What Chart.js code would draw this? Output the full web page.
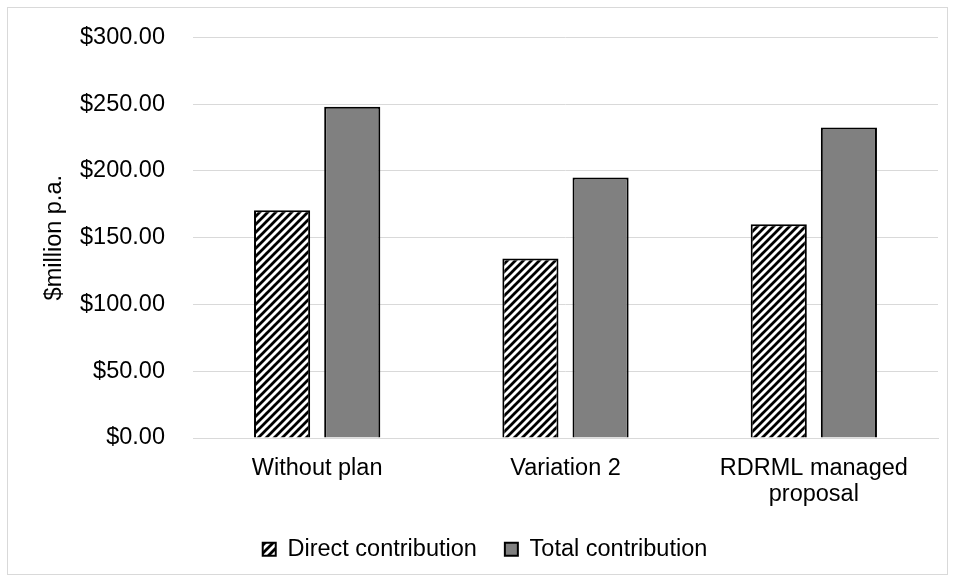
<!DOCTYPE html>
<html>
<head>
<meta charset="utf-8">
<script src="https://cdn.jsdelivr.net/npm/chart.js@4.4.2/dist/chart.umd.min.js"></script>
<style>
  body { margin: 0; background: #fff; }
  #frame { position: absolute; left: 7px; top: 7px; width: 939px; height: 566px; border: 1px solid #d9d9d9; }
  #chart { position: absolute; left: 0; top: 0; }
</style>
</head>
<body>
<div id="frame"></div>
<canvas id="chart" width="955" height="581"></canvas>
<script>
const categories = ['Without plan', 'Variation 2', ['RDRML managed', 'proposal']];
const directContribution = [170.5, 134.5, 160];
const totalContribution = [248, 195, 232.5];
const seriesNames = ['Direct contribution', 'Total contribution'];

const FONT = 'Liberation Sans, Arial, sans-serif';
const FONT_SIZE = 23.5;

// diagonal hatch like Excel's wide upward diagonal
function hatch() {
  const s = 8;
  const c = document.createElement('canvas');
  c.width = s;
  c.height = s;
  const ctx = c.getContext('2d');
  ctx.fillStyle = '#fff';
  ctx.fillRect(0, 0, s, s);
  ctx.strokeStyle = '#000';
  ctx.lineWidth = 2.8;
  ctx.beginPath();
  ctx.moveTo(-1, s + 1); ctx.lineTo(s + 1, -1);
  ctx.moveTo(-1, 1); ctx.lineTo(1, -1);
  ctx.moveTo(s - 1, s + 1); ctx.lineTo(s + 1, s - 1);
  ctx.stroke();
  return ctx.createPattern(c, 'repeat');
}

new Chart(document.getElementById('chart'), {
  type: 'bar',
  data: {
    labels: categories,
    datasets: [{
      label: seriesNames[0],
      data: directContribution,
      backgroundColor: hatch(),
      borderColor: '#000',
      borderWidth: 2
    }, {
      label: seriesNames[1],
      data: totalContribution,
      backgroundColor: '#808080',
      borderColor: '#000',
      borderWidth: 2
    }]
  },
  options: {
    responsive: false,
    animation: false,
    devicePixelRatio: 1,
    categoryPercentage: 0.565,
    barPercentage: 0.8,
    layout: {
      padding: { left: 32, top: 37, right: 17, bottom: 10 }
    },
    scales: {
      y: {
        min: 0,
        max: 300,
        afterFit: (scale) => { scale.width = 161; },
        ticks: {
          stepSize: 50,
          padding: 28,
          color: '#000',
          // small lineHeight keeps the top label from pushing the plot down
          font: { family: FONT, size: FONT_SIZE, lineHeight: 0.8 },
          callback: (v) => '$' + Number(v).toFixed(2)
        },
        grid: { color: '#d9d9d9', drawTicks: false },
        border: { display: false },
        title: {
          display: true,
          text: '$million p.a.',
          color: '#000',
          padding: { top: 8, bottom: 0 },
          font: { family: FONT, size: FONT_SIZE }
        }
      },
      x: {
        afterFit: (scale) => { scale.height = 71.5; },
        ticks: {
          padding: 18,
          color: '#000',
          maxRotation: 0,
          font: { family: FONT, size: FONT_SIZE, lineHeight: 1.1 }
        },
        grid: { display: false, drawTicks: false },
        border: { display: true, color: '#d9d9d9' }
      }
    },
    plugins: {
      tooltip: { enabled: false },
      legend: {
        position: 'bottom',
        labels: {
          boxWidth: 13,
          boxHeight: 13,
          padding: 28,
          color: '#000',
          font: { family: FONT, size: FONT_SIZE }
        }
      }
    }
  }
});
</script>
</body>
</html>
